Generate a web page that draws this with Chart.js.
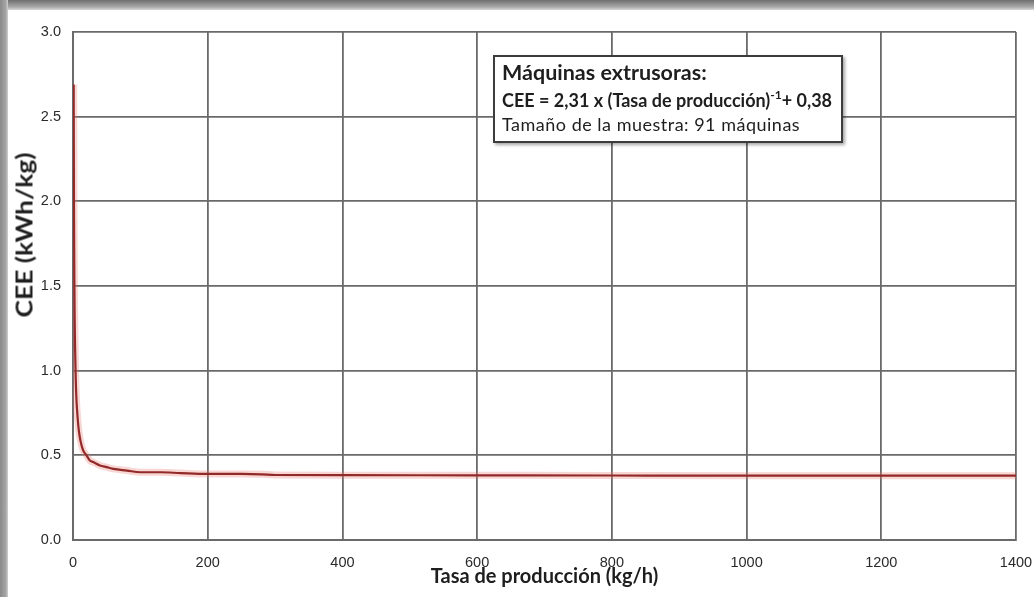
<!DOCTYPE html>
<html lang="es">
<head>
<meta charset="UTF-8">
<title>CEE - Máquinas extrusoras</title>
<script src="https://cdn.jsdelivr.net/npm/chart.js"></script>
<style>
  body {
    margin: 0;
    width: 1034px;
    height: 597px;
    overflow: hidden;
    position: relative;
    background: #fff;
    font-family: Lato, "Liberation Sans", sans-serif;
    color: #1e1e1e;
  }
  .frame-top {
    position: absolute; left: 0; top: 0; width: 100%; height: 10px;
    background: linear-gradient(#6f6f6f, #a9a9a9 70%, #d8d8d8);
  }
  .frame-left {
    position: absolute; left: 0; top: 0; width: 8px; height: 100%;
    background: linear-gradient(to right, #8a8a8a, #a4a4a4 70%, #d0d0d0);
  }
  #chart { position: absolute; left: 0; top: 0; }
  .y-title {
    position: absolute;
    left: 24px; top: 235px;
    transform: translate(-50%, -50%) rotate(-90deg) scaleX(1.2);
    white-space: nowrap;
    font-weight: bold;
    font-size: 22px;
  }
  .note {
    position: absolute;
    left: 493px; top: 55px;
    width: 346px; height: 84px;
    border: 2px solid #3c3c3c;
    background: #fff;
    box-shadow: 2px 2px 3px rgba(0,0,0,0.35);
  }
  .note div { position: absolute; left: 7px; white-space: nowrap; }
  .note .l1 { top: 2px; font-size: 21.5px; font-weight: bold; }
  .note .l2 { top: 31px; font-size: 18px; font-weight: bold; }
  .note .l2 sup { font-size: 12px; position: relative; top: -1px; }
  .note .l3 { top: 56px; font-size: 18px; letter-spacing: 0.5px; }
</style>
</head>
<body>
<div class="frame-top"></div>
<div class="frame-left"></div>
<canvas id="chart" width="1034" height="597"></canvas>
<div class="y-title">CEE (kWh/kg)</div>
<div class="note">
  <div class="l1">Máquinas extrusoras:</div>
  <div class="l2">CEE = 2,31 x (Tasa de producción)<sup>-1</sup>+ 0,38</div>
  <div class="l3">Tamaño de la muestra: 91 máquinas</div>
</div>

<script>
// values
const tasa = [1, 1.2, 1.5, 2, 2.5, 3, 4, 5, 6, 8, 10, 12, 15, 20, 25, 30, 40, 50, 60, 80, 100, 130, 160, 200, 250, 280, 300, 400, 600, 800, 1000, 1200, 1400];
const cee  = [2.69, 2.31, 1.92, 1.54, 1.30, 1.15, 0.96, 0.84, 0.77, 0.67, 0.61, 0.57, 0.53, 0.50, 0.47, 0.46, 0.44, 0.43, 0.42, 0.41, 0.40, 0.40, 0.395, 0.39, 0.39, 0.388, 0.384, 0.383, 0.382, 0.381, 0.380, 0.380, 0.380];

const xTicks = [0, 200, 400, 600, 800, 1000, 1200, 1400];
const yTicks = [0, 0.5, 1.0, 1.5, 2.0, 2.5, 3.0];

const points = tasa.map((x, i) => ({ x: x, y: cee[i] }));
const gridColor = '#6a6a6a';
const tickFont = { family: '"Liberation Sans", Arial, sans-serif', size: 14.5 };

new Chart(document.getElementById('chart'), {
    type: 'line',
    data: {
        datasets: [
            {
                data: points,
                borderColor: '#932a2a',
                borderWidth: 2.2,
                pointRadius: 0,
                cubicInterpolationMode: 'monotone',
                order: 0
            },
            {
                // soft glow around the curve
                data: points,
                borderColor: 'rgba(232, 120, 110, 0.3)',
                borderWidth: 7,
                pointRadius: 0,
                cubicInterpolationMode: 'monotone',
                order: 1
            }
        ]
    },
    options: {
        responsive: false,
        animation: false,
        layout: { padding: { top: 32, right: 18, left: 0, bottom: 0 } },
        plugins: { legend: { display: false }, tooltip: { enabled: false } },
        scales: {
            x: {
                type: 'linear',
                min: 0,
                max: 1400,
                afterBuildTicks: s => { s.ticks = xTicks.map(v => ({ value: v })); },
                afterFit: s => { s.height = 57; s.paddingLeft = 0; s.paddingRight = 0; },
                grid: { color: gridColor, lineWidth: 1.8, drawTicks: false },
                border: { color: gridColor, width: 2 },
                ticks: { font: tickFont, color: '#2a2a2a', padding: 14, maxRotation: 0, callback: v => String(v) },
                title: {
                    display: true,
                    text: 'Tasa de producción (kg/h)',
                    font: { family: 'Lato, sans-serif', size: 20, weight: 'bold' },
                    color: '#1e1e1e',
                    padding: { top: 0, bottom: 8 }
                }
            },
            y: {
                min: 0,
                max: 3,
                afterBuildTicks: s => { s.ticks = yTicks.map(v => ({ value: v })); },
                afterFit: s => { s.width = 73; },
                grid: { color: gridColor, lineWidth: 1.8, drawTicks: false },
                border: { color: gridColor, width: 2 },
                ticks: {
                    font: tickFont,
                    color: '#2a2a2a',
                    padding: 12,
                    callback: v => v.toFixed(1)
                }
            }
        }
    }
});
</script>
</body>
</html>
